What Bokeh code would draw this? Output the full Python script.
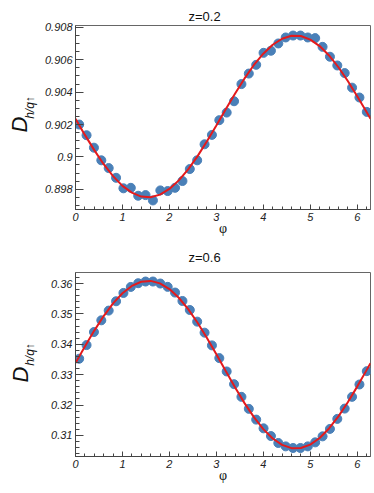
import math
from bokeh.plotting import figure
from bokeh.layouts import column
from bokeh.models import SingleIntervalTicker, CustomJSTickFormatter, Range1d, Title
from bokeh.embed import file_html
from bokeh.resources import INLINE

# ---------------- data ----------------
phi = [0.0785, 0.2356, 0.3927, 0.5498, 0.7069, 0.8639, 1.0210, 1.1781, 1.3352, 1.4923,
       1.6493, 1.8064, 1.9635, 2.1206, 2.2777, 2.4347, 2.5918, 2.7489, 2.9060, 3.0631,
       3.2201, 3.3772, 3.5343, 3.6914, 3.8485, 4.0055, 4.1626, 4.3197, 4.4768, 4.6339,
       4.7909, 4.9480, 5.1051, 5.2622, 5.4193, 5.5763, 5.7334, 5.8905, 6.0476, 6.2046]

d_z02 = [0.90200, 0.90134, 0.90057, 0.89979, 0.89931, 0.89871, 0.89806, 0.89809, 0.89760, 0.89764,
         0.89731, 0.89793, 0.89789, 0.89809, 0.89851, 0.89925, 0.89979, 0.90078, 0.90136, 0.90227,
         0.90274, 0.90344, 0.90450, 0.90515, 0.90569, 0.90643, 0.90656, 0.90701, 0.90738, 0.90750,
         0.90750, 0.90738, 0.90734, 0.90680, 0.90619, 0.90565, 0.90518, 0.90428, 0.90367, 0.90278]

d_z06 = [0.33525, 0.33974, 0.34403, 0.34789, 0.35109, 0.35416, 0.35690, 0.35888, 0.36010, 0.36066,
         0.36066, 0.36000, 0.35890, 0.35703, 0.35426, 0.35129, 0.34746, 0.34383, 0.33964, 0.33545,
         0.33106, 0.32687, 0.32270, 0.31875, 0.31521, 0.31234, 0.30980, 0.30752, 0.30640, 0.30587,
         0.30587, 0.30640, 0.30772, 0.30970, 0.31215, 0.31545, 0.31884, 0.32270, 0.32677, 0.33116]

fit_phi = [0.0, 0.2, 0.4, 0.6, 0.8, 1.0, 1.2, 1.4, 1.6, 1.8, 2.0, 2.2, 2.4, 2.6, 2.8, 3.0,
           3.2, 3.4, 3.6, 3.8, 4.0, 4.2, 4.4, 4.6, 4.8, 5.0, 5.2, 5.4, 5.6, 5.8, 6.0, 6.2, 6.2832]

fit_z02 = [0.90235, 0.90136, 0.90042, 0.89955, 0.89881, 0.89821, 0.89779, 0.89755, 0.89751, 0.89767,
           0.89802, 0.89855, 0.89923, 0.90005, 0.90097, 0.90194, 0.90294, 0.90392, 0.90485, 0.90568,
           0.90638, 0.90693, 0.90730, 0.90749, 0.90747, 0.90725, 0.90685, 0.90627, 0.90554, 0.90469,
           0.90375, 0.90277, 0.90235]

fit_z06 = [0.33380, 0.33927, 0.34451, 0.34930, 0.35345, 0.35680, 0.35920, 0.36058, 0.36087, 0.36006,
           0.35819, 0.35532, 0.35158, 0.34710, 0.34208, 0.33670, 0.33119, 0.32577, 0.32064, 0.31602,
           0.31209, 0.30900, 0.30688, 0.30582, 0.30585, 0.30698, 0.30915, 0.31229, 0.31626, 0.32092,
           0.32607, 0.33150, 0.33380]

titles = ["z=0.2", "z=0.6"]
x_title = "φ"
y_title_main = "D"
y_title_sub = "h/q↑"

# ---------------- styling ----------------
POINT_COLOR = "#4a80b8"
LINE_COLOR = "#e41a1c"
FONT = "Liberation Sans"
FRAME_W, FRAME_H = 295, 184
X_RANGE = (0.0, 2 * math.pi)
LEFT = 75
PAD = "\u00a0"


def make_panel(title, ys, fit_ys, y_range, y_interval, y_minor, border_top, border_bottom,
               title_standoff, sub_standoff, sub_pad, d_offset):
    p = figure(frame_width=FRAME_W, frame_height=FRAME_H,
               x_range=Range1d(*X_RANGE), y_range=Range1d(*y_range),
               output_backend="svg", toolbar_location=None,
               min_border_left=LEFT, min_border_right=4,
               min_border_top=border_top, min_border_bottom=border_bottom,
               background_fill_color="white", border_fill_color="white",
               title=Title(text=title, align="left", offset=113, text_font=FONT,
                           text_font_size="13px", text_font_style="normal",
                           text_color="#111111", standoff=title_standoff))
    p.outline_line_color = "#666666"
    p.outline_line_width = 1
    p.xgrid.visible = False
    p.ygrid.visible = False

    fmt = CustomJSTickFormatter(code="return String(parseFloat(tick.toFixed(5)));")

    xa = p.xaxis[0]
    xa.ticker = SingleIntervalTicker(interval=1, num_minor_ticks=5)
    xa.formatter = fmt
    xa.major_tick_in = 5
    xa.major_tick_out = 0
    xa.minor_tick_in = 3
    xa.minor_tick_out = 0
    xa.major_label_standoff = 3
    xa.major_label_text_font = FONT
    xa.major_label_text_font_style = "italic"
    xa.major_label_text_font_size = "11px"
    xa.major_label_text_color = "#222222"
    xa.axis_line_color = "#444444"
    xa.major_tick_line_color = "#444444"
    xa.minor_tick_line_color = "#444444"
    xa.axis_label = x_title
    xa.axis_label_text_font = "Liberation Serif"
    xa.axis_label_text_font_style = "normal"
    xa.axis_label_text_font_size = "14px"
    xa.axis_label_text_color = "#111111"
    xa.axis_label_standoff = -3

    ya = p.yaxis[0]
    ya.ticker = SingleIntervalTicker(interval=y_interval, num_minor_ticks=y_minor)
    ya.formatter = fmt
    ya.major_tick_in = 8
    ya.major_tick_out = 0
    ya.minor_tick_in = 4
    ya.minor_tick_out = 0
    ya.major_label_standoff = 3
    ya.major_label_text_font = FONT
    ya.major_label_text_font_style = "italic"
    ya.major_label_text_font_size = "11px"
    ya.major_label_text_color = "#222222"
    ya.axis_line_color = "#444444"
    ya.major_tick_line_color = "#444444"
    ya.minor_tick_line_color = "#444444"
    ya.axis_label = PAD * sub_pad + y_title_sub
    ya.axis_label_text_font = FONT
    ya.axis_label_text_font_style = "italic"
    ya.axis_label_text_font_size = "12px"
    ya.axis_label_text_color = "#111111"
    ya.axis_label_standoff = sub_standoff

    p.add_layout(Title(text=y_title_main, align="left", offset=d_offset, vertical_align="middle",
                       standoff=-38, text_font=FONT, text_font_style="italic",
                       text_font_size="22px", text_color="#111111"), "left")

    p.scatter(phi, ys, size=9, fill_color=POINT_COLOR, line_color=POINT_COLOR)
    p.line(fit_phi, fit_ys, line_color=LINE_COLOR, line_width=2)
    return p


p1 = make_panel(titles[0], d_z02, fit_z02, (0.89675, 0.90812), 0.002, 4, 25, 31,
                4, 5, 6, 77)
p2 = make_panel(titles[1], d_z06, fit_z06, (0.30307, 0.36363), 0.01, 5, 31, 30,
                15, 11, 6, 74)

layout = column(p1, p2, spacing=0)
open("out.html", "w").write(file_html(layout, INLINE))
